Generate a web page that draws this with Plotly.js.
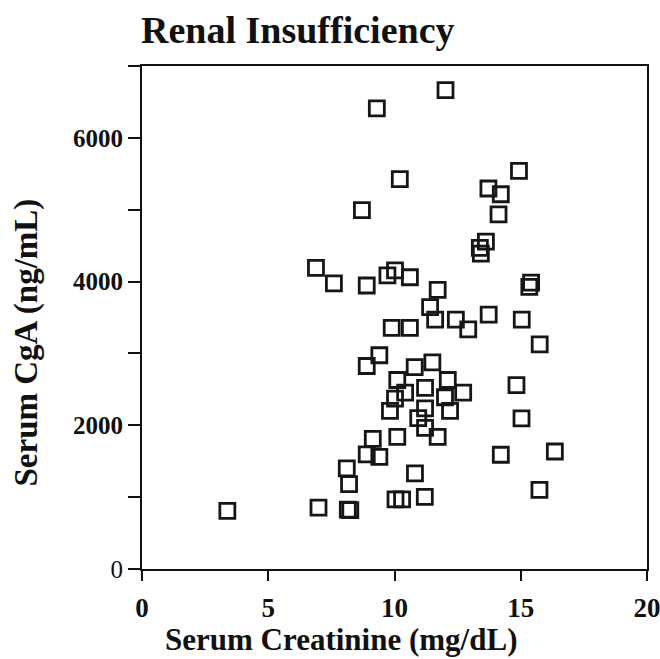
<!DOCTYPE html>
<html>
<head>
<meta charset="utf-8">
<script src="https://cdn.plot.ly/plotly-3.0.1.min.js"></script>
<style>html,body{margin:0;padding:0;background:#fff;}#chart{width:660px;height:659px;}</style>
</head>
<body>
<div id="chart"></div>
<script>
const chartTitle = "Renal Insufficiency";
const xTitle = "Serum Creatinine (mg/dL)";
const yTitle = "Serum CgA (ng/mL)";

const creatinine = [12.02, 9.30, 14.93, 10.21, 13.72, 14.21, 14.12, 8.71, 13.62, 13.38, 13.42,
  6.89, 7.60, 8.90, 9.72, 10.02, 10.61, 15.41, 15.34, 11.71, 11.41, 11.61, 12.43, 12.92,
  13.73, 15.04, 9.89, 10.61, 15.75, 9.40, 8.90, 10.80, 11.50, 10.11, 12.11, 11.21, 12.72,
  10.42, 12.00, 10.02, 11.21, 12.20, 9.82, 10.94, 11.21, 11.71, 10.11, 9.14, 8.90, 9.40,
  14.83, 15.03, 14.21, 16.35, 10.81, 8.11, 8.20, 11.20, 10.04, 10.30, 15.74, 6.99, 8.25,
  8.15, 3.38];
const cga = [6665, 6410, 5540, 5425, 5295, 5215, 4935, 4995, 4555, 4470, 4390,
  4190, 3975, 3945, 4085, 4155, 4060, 3985, 3925, 3885, 3645, 3470, 3470, 3335,
  3540, 3470, 3355, 3355, 3125, 2975, 2825, 2810, 2875, 2630, 2630, 2520, 2455,
  2455, 2390, 2370, 2235, 2200, 2200, 2100, 1965, 1840, 1840, 1810, 1595, 1560,
  2560, 2095, 1590, 1635, 1330, 1400, 1180, 1005, 970, 970, 1100, 855, 820,
  825, 810];

const xTickVals = [0, 5, 10, 15, 20];
const xTickText = ["0", "5", "10", "15", "20"];
const yTickVals = [0, 1000, 2000, 3000, 4000, 5000, 6000, 7000];
const yTickText = ["0", "", "<b>2000</b>", "", "<b>4000</b>", "", "<b>6000</b>", ""];

const FONT = "Liberation Serif, Times New Roman, serif";

const trace = {
  x: creatinine,
  y: cga,
  type: "scatter",
  mode: "markers",
  marker: {
    symbol: "square-open",
    size: 15,
    color: "#161616",
    line: {width: 2.8, color: "#161616"}
  },
  hoverinfo: "x+y"
};

const layout = {
  width: 660,
  height: 659,
  margin: {l: 142, r: 13, t: 66, b: 90},
  paper_bgcolor: "#ffffff",
  plot_bgcolor: "#ffffff",
  showlegend: false,
  font: {family: FONT, color: "#111111"},
  xaxis: {
    range: [0, 20],
    tickvals: xTickVals,
    ticktext: xTickText,
    ticks: "outside",
    ticklen: 10,
    tickwidth: 2,
    tickcolor: "#111",
    showline: true,
    linewidth: 2,
    linecolor: "#111",
    mirror: true,
    showgrid: false,
    zeroline: false,
    ticklabeloverflow: "allow",
    tickfont: {family: FONT, size: 27, weight: "bold", color: "#111"},
    ticklabelstandoff: 4
  },
  yaxis: {
    range: [0, 7000],
    tickvals: yTickVals,
    ticktext: yTickText,
    ticks: "outside",
    ticklen: 12,
    tickwidth: 2,
    tickcolor: "#111",
    showline: true,
    linewidth: 2,
    linecolor: "#111",
    mirror: true,
    showgrid: false,
    zeroline: false,
    ticklabeloverflow: "allow",
    tickfont: {family: FONT, size: 25, color: "#111"},
    ticklabelstandoff: 0
  },
  annotations: [
    {text: "<b>" + chartTitle + "</b>", xref: "paper", yref: "paper", x: -0.006, y: 1.072,
     xanchor: "left", yanchor: "middle", showarrow: false,
     font: {family: FONT, size: 38, color: "#111"}},
    {text: "<b>" + xTitle + "</b>", xref: "paper", yref: "paper", x: 0.394, y: -0.14,
     xanchor: "center", yanchor: "middle", showarrow: false,
     font: {family: FONT, size: 31, color: "#111"}},
    {text: "<b>" + yTitle + "</b>", xref: "paper", yref: "paper", x: -0.228, y: 0.45,
     xanchor: "center", yanchor: "middle", textangle: -90, showarrow: false,
     font: {family: FONT, size: 33, color: "#111"}}
  ]
};

Plotly.newPlot("chart", [trace], layout, {staticPlot: true, displayModeBar: false});
</script>
</body>
</html>
